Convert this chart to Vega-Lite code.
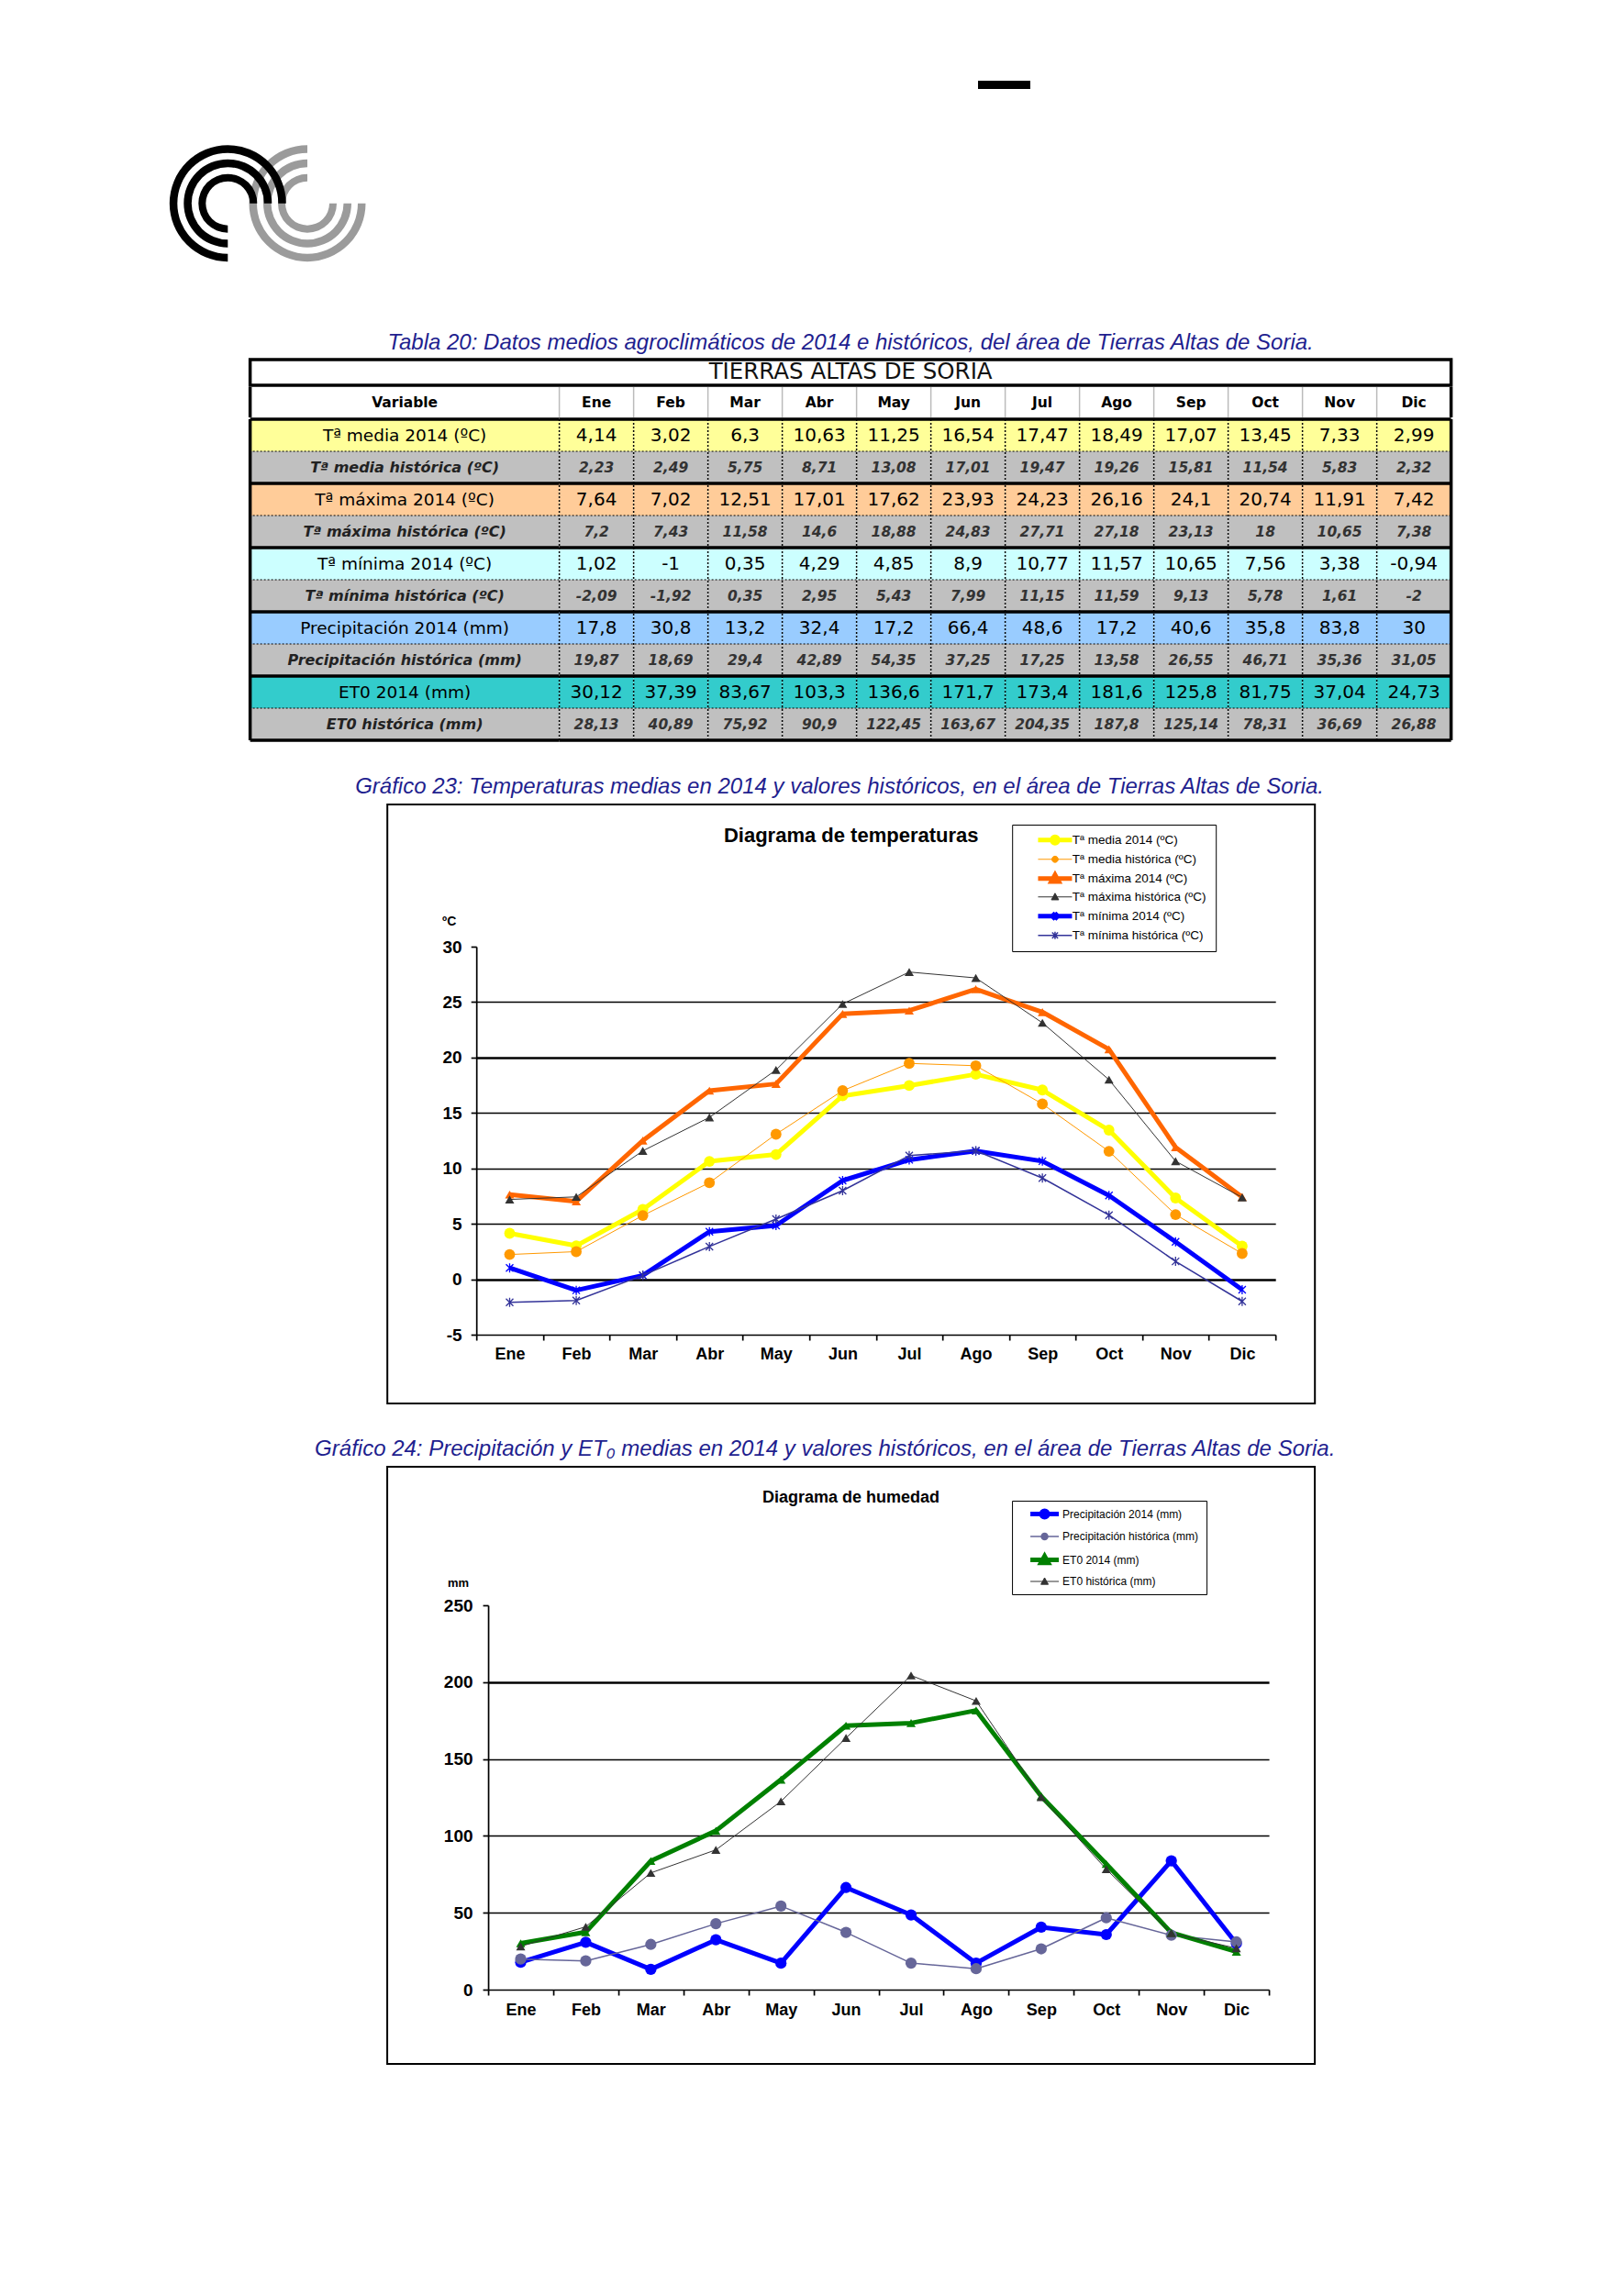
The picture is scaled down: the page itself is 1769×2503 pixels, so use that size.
{
  "$schema": "https://vega.github.io/schema/vega-lite/v6.json",
  "background": "white",
  "padding": {"left": 184, "top": 80, "right": 0, "bottom": 0},
  "spacing": 37,
  "center": true,
  "resolve": {"scale": {"fill": "independent", "stroke": "independent", "strokeWidth": "independent", "shape": "independent", "theta": "independent", "radius": "independent"}},
  "datasets": {
    "clima": [
      {"mes":"Ene","serie":"Tª media 2014 (ºC)","valor":4.14},{"mes":"Feb","serie":"Tª media 2014 (ºC)","valor":3.02},{"mes":"Mar","serie":"Tª media 2014 (ºC)","valor":6.3},{"mes":"Abr","serie":"Tª media 2014 (ºC)","valor":10.63},{"mes":"May","serie":"Tª media 2014 (ºC)","valor":11.25},{"mes":"Jun","serie":"Tª media 2014 (ºC)","valor":16.54},{"mes":"Jul","serie":"Tª media 2014 (ºC)","valor":17.47},{"mes":"Ago","serie":"Tª media 2014 (ºC)","valor":18.49},{"mes":"Sep","serie":"Tª media 2014 (ºC)","valor":17.07},{"mes":"Oct","serie":"Tª media 2014 (ºC)","valor":13.45},{"mes":"Nov","serie":"Tª media 2014 (ºC)","valor":7.33},{"mes":"Dic","serie":"Tª media 2014 (ºC)","valor":2.99},
      {"mes":"Ene","serie":"Tª media histórica (ºC)","valor":2.23},{"mes":"Feb","serie":"Tª media histórica (ºC)","valor":2.49},{"mes":"Mar","serie":"Tª media histórica (ºC)","valor":5.75},{"mes":"Abr","serie":"Tª media histórica (ºC)","valor":8.71},{"mes":"May","serie":"Tª media histórica (ºC)","valor":13.08},{"mes":"Jun","serie":"Tª media histórica (ºC)","valor":17.01},{"mes":"Jul","serie":"Tª media histórica (ºC)","valor":19.47},{"mes":"Ago","serie":"Tª media histórica (ºC)","valor":19.26},{"mes":"Sep","serie":"Tª media histórica (ºC)","valor":15.81},{"mes":"Oct","serie":"Tª media histórica (ºC)","valor":11.54},{"mes":"Nov","serie":"Tª media histórica (ºC)","valor":5.83},{"mes":"Dic","serie":"Tª media histórica (ºC)","valor":2.32},
      {"mes":"Ene","serie":"Tª máxima 2014 (ºC)","valor":7.64},{"mes":"Feb","serie":"Tª máxima 2014 (ºC)","valor":7.02},{"mes":"Mar","serie":"Tª máxima 2014 (ºC)","valor":12.51},{"mes":"Abr","serie":"Tª máxima 2014 (ºC)","valor":17.01},{"mes":"May","serie":"Tª máxima 2014 (ºC)","valor":17.62},{"mes":"Jun","serie":"Tª máxima 2014 (ºC)","valor":23.93},{"mes":"Jul","serie":"Tª máxima 2014 (ºC)","valor":24.23},{"mes":"Ago","serie":"Tª máxima 2014 (ºC)","valor":26.16},{"mes":"Sep","serie":"Tª máxima 2014 (ºC)","valor":24.1},{"mes":"Oct","serie":"Tª máxima 2014 (ºC)","valor":20.74},{"mes":"Nov","serie":"Tª máxima 2014 (ºC)","valor":11.91},{"mes":"Dic","serie":"Tª máxima 2014 (ºC)","valor":7.42},
      {"mes":"Ene","serie":"Tª máxima histórica (ºC)","valor":7.2},{"mes":"Feb","serie":"Tª máxima histórica (ºC)","valor":7.43},{"mes":"Mar","serie":"Tª máxima histórica (ºC)","valor":11.58},{"mes":"Abr","serie":"Tª máxima histórica (ºC)","valor":14.6},{"mes":"May","serie":"Tª máxima histórica (ºC)","valor":18.88},{"mes":"Jun","serie":"Tª máxima histórica (ºC)","valor":24.83},{"mes":"Jul","serie":"Tª máxima histórica (ºC)","valor":27.71},{"mes":"Ago","serie":"Tª máxima histórica (ºC)","valor":27.18},{"mes":"Sep","serie":"Tª máxima histórica (ºC)","valor":23.13},{"mes":"Oct","serie":"Tª máxima histórica (ºC)","valor":18},{"mes":"Nov","serie":"Tª máxima histórica (ºC)","valor":10.65},{"mes":"Dic","serie":"Tª máxima histórica (ºC)","valor":7.38},
      {"mes":"Ene","serie":"Tª mínima 2014 (ºC)","valor":1.02},{"mes":"Feb","serie":"Tª mínima 2014 (ºC)","valor":-1},{"mes":"Mar","serie":"Tª mínima 2014 (ºC)","valor":0.35},{"mes":"Abr","serie":"Tª mínima 2014 (ºC)","valor":4.29},{"mes":"May","serie":"Tª mínima 2014 (ºC)","valor":4.85},{"mes":"Jun","serie":"Tª mínima 2014 (ºC)","valor":8.9},{"mes":"Jul","serie":"Tª mínima 2014 (ºC)","valor":10.77},{"mes":"Ago","serie":"Tª mínima 2014 (ºC)","valor":11.57},{"mes":"Sep","serie":"Tª mínima 2014 (ºC)","valor":10.65},{"mes":"Oct","serie":"Tª mínima 2014 (ºC)","valor":7.56},{"mes":"Nov","serie":"Tª mínima 2014 (ºC)","valor":3.38},{"mes":"Dic","serie":"Tª mínima 2014 (ºC)","valor":-0.94},
      {"mes":"Ene","serie":"Tª mínima histórica (ºC)","valor":-2.09},{"mes":"Feb","serie":"Tª mínima histórica (ºC)","valor":-1.92},{"mes":"Mar","serie":"Tª mínima histórica (ºC)","valor":0.35},{"mes":"Abr","serie":"Tª mínima histórica (ºC)","valor":2.95},{"mes":"May","serie":"Tª mínima histórica (ºC)","valor":5.43},{"mes":"Jun","serie":"Tª mínima histórica (ºC)","valor":7.99},{"mes":"Jul","serie":"Tª mínima histórica (ºC)","valor":11.15},{"mes":"Ago","serie":"Tª mínima histórica (ºC)","valor":11.59},{"mes":"Sep","serie":"Tª mínima histórica (ºC)","valor":9.13},{"mes":"Oct","serie":"Tª mínima histórica (ºC)","valor":5.78},{"mes":"Nov","serie":"Tª mínima histórica (ºC)","valor":1.61},{"mes":"Dic","serie":"Tª mínima histórica (ºC)","valor":-2},
      {"mes":"Ene","serie":"Precipitación 2014 (mm)","valor":17.8},{"mes":"Feb","serie":"Precipitación 2014 (mm)","valor":30.8},{"mes":"Mar","serie":"Precipitación 2014 (mm)","valor":13.2},{"mes":"Abr","serie":"Precipitación 2014 (mm)","valor":32.4},{"mes":"May","serie":"Precipitación 2014 (mm)","valor":17.2},{"mes":"Jun","serie":"Precipitación 2014 (mm)","valor":66.4},{"mes":"Jul","serie":"Precipitación 2014 (mm)","valor":48.6},{"mes":"Ago","serie":"Precipitación 2014 (mm)","valor":17.2},{"mes":"Sep","serie":"Precipitación 2014 (mm)","valor":40.6},{"mes":"Oct","serie":"Precipitación 2014 (mm)","valor":35.8},{"mes":"Nov","serie":"Precipitación 2014 (mm)","valor":83.8},{"mes":"Dic","serie":"Precipitación 2014 (mm)","valor":30},
      {"mes":"Ene","serie":"Precipitación histórica (mm)","valor":19.87},{"mes":"Feb","serie":"Precipitación histórica (mm)","valor":18.69},{"mes":"Mar","serie":"Precipitación histórica (mm)","valor":29.4},{"mes":"Abr","serie":"Precipitación histórica (mm)","valor":42.89},{"mes":"May","serie":"Precipitación histórica (mm)","valor":54.35},{"mes":"Jun","serie":"Precipitación histórica (mm)","valor":37.25},{"mes":"Jul","serie":"Precipitación histórica (mm)","valor":17.25},{"mes":"Ago","serie":"Precipitación histórica (mm)","valor":13.58},{"mes":"Sep","serie":"Precipitación histórica (mm)","valor":26.55},{"mes":"Oct","serie":"Precipitación histórica (mm)","valor":46.71},{"mes":"Nov","serie":"Precipitación histórica (mm)","valor":35.36},{"mes":"Dic","serie":"Precipitación histórica (mm)","valor":31.05},
      {"mes":"Ene","serie":"ET0 2014 (mm)","valor":30.12},{"mes":"Feb","serie":"ET0 2014 (mm)","valor":37.39},{"mes":"Mar","serie":"ET0 2014 (mm)","valor":83.67},{"mes":"Abr","serie":"ET0 2014 (mm)","valor":103.3},{"mes":"May","serie":"ET0 2014 (mm)","valor":136.6},{"mes":"Jun","serie":"ET0 2014 (mm)","valor":171.7},{"mes":"Jul","serie":"ET0 2014 (mm)","valor":173.4},{"mes":"Ago","serie":"ET0 2014 (mm)","valor":181.6},{"mes":"Sep","serie":"ET0 2014 (mm)","valor":125.8},{"mes":"Oct","serie":"ET0 2014 (mm)","valor":81.75},{"mes":"Nov","serie":"ET0 2014 (mm)","valor":37.04},{"mes":"Dic","serie":"ET0 2014 (mm)","valor":24.73},
      {"mes":"Ene","serie":"ET0 histórica (mm)","valor":28.13},{"mes":"Feb","serie":"ET0 histórica (mm)","valor":40.89},{"mes":"Mar","serie":"ET0 histórica (mm)","valor":75.92},{"mes":"Abr","serie":"ET0 histórica (mm)","valor":90.9},{"mes":"May","serie":"ET0 histórica (mm)","valor":122.45},{"mes":"Jun","serie":"ET0 histórica (mm)","valor":163.67},{"mes":"Jul","serie":"ET0 histórica (mm)","valor":204.35},{"mes":"Ago","serie":"ET0 histórica (mm)","valor":187.8},{"mes":"Sep","serie":"ET0 histórica (mm)","valor":125.14},{"mes":"Oct","serie":"ET0 histórica (mm)","valor":78.31},{"mes":"Nov","serie":"ET0 histórica (mm)","valor":36.69},{"mes":"Dic","serie":"ET0 histórica (mm)","valor":26.88}
    ]
  },
  "vconcat": [
    {
      "width": 1488, "height": 245,
      "data": {"values": [{"elemento": "cabecera"}]},
      "layer": [
        {"mark": {"type": "rect", "color": "black"},
         "encoding": {
           "x": {"datum": 882, "type": "quantitative", "scale": {"domain": [0, 1488], "nice": false, "zero": false}, "axis": null},
           "x2": {"datum": 939},
           "y": {"datum": 8, "type": "quantitative", "scale": {"domain": [0, 245], "range": [0, 245], "nice": false, "zero": false}, "axis": null},
           "y2": {"datum": 17}}},
        {"mark": {"type": "arc", "color": "#9b9b9b"}, "encoding": {"x": {"datum": 151, "type": "quantitative", "axis": null}, "y": {"datum": 141.7, "type": "quantitative", "axis": null}, "theta": {"datum": 90, "type": "quantitative", "scale": {"type": "linear", "domain": [0, 360], "range": [0, 6.283185307179586], "zero": false, "nice": false}}, "theta2": {"datum": 360}, "radius": {"datum": 63.5, "type": "quantitative", "scale": {"type": "linear", "domain": [0, 100], "range": [0, 100], "zero": true, "nice": false}}, "radius2": {"datum": 55}}},
        {"mark": {"type": "arc", "color": "#9b9b9b"}, "encoding": {"x": {"datum": 151, "type": "quantitative", "axis": null}, "y": {"datum": 141.7, "type": "quantitative", "axis": null}, "theta": {"datum": 90, "type": "quantitative", "scale": {"type": "linear", "domain": [0, 360], "range": [0, 6.283185307179586], "zero": false, "nice": false}}, "theta2": {"datum": 360}, "radius": {"datum": 48, "type": "quantitative", "scale": {"type": "linear", "domain": [0, 100], "range": [0, 100], "zero": true, "nice": false}}, "radius2": {"datum": 39.5}}},
        {"mark": {"type": "arc", "color": "#9b9b9b"}, "encoding": {"x": {"datum": 151, "type": "quantitative", "axis": null}, "y": {"datum": 141.7, "type": "quantitative", "axis": null}, "theta": {"datum": 90, "type": "quantitative", "scale": {"type": "linear", "domain": [0, 360], "range": [0, 6.283185307179586], "zero": false, "nice": false}}, "theta2": {"datum": 360}, "radius": {"datum": 32, "type": "quantitative", "scale": {"type": "linear", "domain": [0, 100], "range": [0, 100], "zero": true, "nice": false}}, "radius2": {"datum": 24}}},
        {"mark": {"type": "arc", "color": "black"}, "encoding": {"x": {"datum": 64.3, "type": "quantitative", "axis": null}, "y": {"datum": 141.7, "type": "quantitative", "axis": null}, "theta": {"datum": 180, "type": "quantitative", "scale": {"type": "linear", "domain": [0, 360], "range": [0, 6.283185307179586], "zero": false, "nice": false}}, "theta2": {"datum": 450}, "radius": {"datum": 63.5, "type": "quantitative", "scale": {"type": "linear", "domain": [0, 100], "range": [0, 100], "zero": true, "nice": false}}, "radius2": {"datum": 55}}},
        {"mark": {"type": "arc", "color": "black"}, "encoding": {"x": {"datum": 64.3, "type": "quantitative", "axis": null}, "y": {"datum": 141.7, "type": "quantitative", "axis": null}, "theta": {"datum": 180, "type": "quantitative", "scale": {"type": "linear", "domain": [0, 360], "range": [0, 6.283185307179586], "zero": false, "nice": false}}, "theta2": {"datum": 450}, "radius": {"datum": 48, "type": "quantitative", "scale": {"type": "linear", "domain": [0, 100], "range": [0, 100], "zero": true, "nice": false}}, "radius2": {"datum": 39.5}}},
        {"mark": {"type": "arc", "color": "black"}, "encoding": {"x": {"datum": 64.3, "type": "quantitative", "axis": null}, "y": {"datum": 141.7, "type": "quantitative", "axis": null}, "theta": {"datum": 180, "type": "quantitative", "scale": {"type": "linear", "domain": [0, 360], "range": [0, 6.283185307179586], "zero": false, "nice": false}}, "theta2": {"datum": 450}, "radius": {"datum": 32, "type": "quantitative", "scale": {"type": "linear", "domain": [0, 100], "range": [0, 100], "zero": true, "nice": false}}, "radius2": {"datum": 24}}}
      ]
    },
    {
      "title": {"text": "Tabla 20: Datos medios agroclimáticos de 2014 e históricos, del área de Tierras Altas de Soria.", "font": "Liberation Sans", "fontSize": 24, "fontStyle": "italic", "fontWeight": "normal", "color": "#1F1F8F", "anchor": "middle", "offset": 4},
      "spacing": -3.5,
      "vconcat": [
        {
          "width": 1309, "height": 28,
          "view": {"stroke": "black", "strokeWidth": 3.5},
          "data": {"values": [{"titulo": "TIERRAS ALTAS DE SORIA"}]},
          "mark": {"type": "text", "font": "DejaVu Sans", "fontSize": 24.5, "color": "#111111", "baseline": "middle"},
          "encoding": {"text": {"field": "titulo", "type": "nominal"}}
        },
        {
          "hconcat": [
            {
              "width": 337, "height": 33,
              "data": {"values": [{"columna": "Variable"}]},
              "layer": [
                {"mark": {"type": "text", "font": "DejaVu Sans", "fontSize": 15.5, "fontWeight": "bold", "color": "black"},
                 "encoding": {"x": {"field": "columna", "type": "nominal", "scale": {"type": "band", "paddingInner": 0, "paddingOuter": 0}, "axis": null}, "text": {"field": "columna", "type": "nominal"}}},
                {"mark": {"type": "rule", "color": "black", "strokeWidth": 3.5},
                 "encoding": {"x": {"field": "columna", "type": "nominal", "bandPosition": 0, "scale": {"type": "band", "paddingInner": 0, "paddingOuter": 0}, "axis": null}}}
              ]
            },
            {
              "width": 972, "height": 33,
              "data": {"name": "clima"},
              "transform": [{"filter": {"field": "serie", "equal": "Tª media 2014 (ºC)"}}],
              "layer": [
                {"mark": {"type": "rule", "color": "#BBBBBB", "strokeWidth": 1.5},
                 "encoding": {"x": {"field": "mes", "type": "nominal", "bandPosition": 0, "scale": {"type": "band", "domain": ["Ene","Feb","Mar","Abr","May","Jun","Jul","Ago","Sep","Oct","Nov","Dic"], "paddingInner": 0, "paddingOuter": 0}, "axis": null}}},
                {"mark": {"type": "text", "font": "DejaVu Sans", "fontSize": 15.5, "fontWeight": "bold", "color": "black"},
                 "encoding": {"x": {"field": "mes", "type": "nominal", "scale": {"type": "band", "domain": ["Ene","Feb","Mar","Abr","May","Jun","Jul","Ago","Sep","Oct","Nov","Dic"], "paddingInner": 0, "paddingOuter": 0}, "axis": null}, "text": {"field": "mes", "type": "nominal"}}},
                {"transform": [{"filter": {"field": "mes", "equal": "Dic"}}],
                 "mark": {"type": "rule", "color": "black", "strokeWidth": 3.5},
                 "encoding": {"x": {"field": "mes", "type": "nominal", "bandPosition": 1, "scale": {"type": "band", "domain": ["Ene","Feb","Mar","Abr","May","Jun","Jul","Ago","Sep","Oct","Nov","Dic"], "paddingInner": 0, "paddingOuter": 0}, "axis": null}}}
              ]
            }
          ],
          "spacing": 0,
          "bounds": "flush"
        },
        {
          "hconcat": [
            {
              "width": 337, "height": 350,
              "data": {"name": "clima"},
              "transform": [{"filter": {"field": "mes", "equal": "Ene"}}],
              "layer": [
                {"mark": {"type": "rect"},
                 "encoding": {
                   "y": {"field": "serie", "type": "nominal", "scale": {"type": "band", "domain": ["Tª media 2014 (ºC)","Tª media histórica (ºC)","Tª máxima 2014 (ºC)","Tª máxima histórica (ºC)","Tª mínima 2014 (ºC)","Tª mínima histórica (ºC)","Precipitación 2014 (mm)","Precipitación histórica (mm)","ET0 2014 (mm)","ET0 histórica (mm)"], "paddingInner": 0, "paddingOuter": 0}, "axis": null},
                   "fill": {"field": "serie", "type": "nominal", "scale": {"domain": ["Tª media 2014 (ºC)","Tª media histórica (ºC)","Tª máxima 2014 (ºC)","Tª máxima histórica (ºC)","Tª mínima 2014 (ºC)","Tª mínima histórica (ºC)","Precipitación 2014 (mm)","Precipitación histórica (mm)","ET0 2014 (mm)","ET0 histórica (mm)"], "range": ["#FFFF99","#C0C0C0","#FFCC99","#C0C0C0","#CCFFFF","#C0C0C0","#99CCFF","#C0C0C0","#33CCCC","#C0C0C0"]}, "legend": null}}},
                {"transform": [{"filter": {"field": "serie", "oneOf": ["Tª media 2014 (ºC)","Tª máxima 2014 (ºC)","Tª mínima 2014 (ºC)","Precipitación 2014 (mm)","ET0 2014 (mm)"]}}],
                 "mark": {"type": "text", "font": "DejaVu Sans", "fontSize": 18.5, "color": "black"},
                 "encoding": {"y": {"field": "serie", "type": "nominal", "axis": null}, "text": {"field": "serie", "type": "nominal"}}},
                {"transform": [{"filter": {"field": "serie", "oneOf": ["Tª media histórica (ºC)","Tª máxima histórica (ºC)","Tª mínima histórica (ºC)","Precipitación histórica (mm)","ET0 histórica (mm)"]}}],
                 "mark": {"type": "text", "font": "DejaVu Sans", "fontSize": 16, "fontWeight": "bold", "fontStyle": "italic", "color": "#222222"},
                 "encoding": {"y": {"field": "serie", "type": "nominal", "axis": null}, "text": {"field": "serie", "type": "nominal"}}},
                {"transform": [{"filter": {"field": "serie", "oneOf": ["Tª media 2014 (ºC)","Tª máxima 2014 (ºC)","Tª mínima 2014 (ºC)","Precipitación 2014 (mm)","ET0 2014 (mm)"]}}],
                 "mark": {"type": "rule", "color": "black", "strokeWidth": 3.5},
                 "encoding": {"y": {"field": "serie", "type": "nominal", "bandPosition": 0, "axis": null}}},
                {"transform": [{"filter": {"field": "serie", "oneOf": ["Tª media histórica (ºC)","Tª máxima histórica (ºC)","Tª mínima histórica (ºC)","Precipitación histórica (mm)","ET0 histórica (mm)"]}}],
                 "mark": {"type": "rule", "color": "black", "strokeWidth": 1.2, "strokeDash": [2, 2]},
                 "encoding": {"y": {"field": "serie", "type": "nominal", "bandPosition": 0, "axis": null}}},
                {"transform": [{"filter": {"field": "serie", "equal": "ET0 histórica (mm)"}}],
                 "mark": {"type": "rule", "color": "black", "strokeWidth": 3.5},
                 "encoding": {"y": {"field": "serie", "type": "nominal", "bandPosition": 1, "axis": null}}},
                {"transform": [{"filter": {"field": "serie", "equal": "ET0 histórica (mm)"}}],
                 "mark": {"type": "rule", "color": "black", "strokeWidth": 3.5},
                 "encoding": {"x": {"field": "mes", "type": "nominal", "bandPosition": 0, "scale": {"type": "band", "paddingInner": 0, "paddingOuter": 0}, "axis": null}}}
              ]
            },
            {
              "width": 972, "height": 350,
              "data": {"name": "clima"},
              "layer": [
                {"mark": {"type": "rect"},
                 "encoding": {
                   "x": {"field": "mes", "type": "nominal", "scale": {"type": "band", "domain": ["Ene","Feb","Mar","Abr","May","Jun","Jul","Ago","Sep","Oct","Nov","Dic"], "paddingInner": 0, "paddingOuter": 0}, "axis": null},
                   "y": {"field": "serie", "type": "nominal", "scale": {"type": "band", "domain": ["Tª media 2014 (ºC)","Tª media histórica (ºC)","Tª máxima 2014 (ºC)","Tª máxima histórica (ºC)","Tª mínima 2014 (ºC)","Tª mínima histórica (ºC)","Precipitación 2014 (mm)","Precipitación histórica (mm)","ET0 2014 (mm)","ET0 histórica (mm)"], "paddingInner": 0, "paddingOuter": 0}, "axis": null},
                   "fill": {"field": "serie", "type": "nominal", "scale": {"domain": ["Tª media 2014 (ºC)","Tª media histórica (ºC)","Tª máxima 2014 (ºC)","Tª máxima histórica (ºC)","Tª mínima 2014 (ºC)","Tª mínima histórica (ºC)","Precipitación 2014 (mm)","Precipitación histórica (mm)","ET0 2014 (mm)","ET0 histórica (mm)"], "range": ["#FFFF99","#C0C0C0","#FFCC99","#C0C0C0","#CCFFFF","#C0C0C0","#99CCFF","#C0C0C0","#33CCCC","#C0C0C0"]}, "legend": null}}},
                {"transform": [{"filter": {"field": "serie", "oneOf": ["Tª media 2014 (ºC)","Tª máxima 2014 (ºC)","Tª mínima 2014 (ºC)","Precipitación 2014 (mm)","ET0 2014 (mm)"]}}],
                 "mark": {"type": "text", "font": "DejaVu Sans", "fontSize": 20, "color": "black"},
                 "encoding": {"x": {"field": "mes", "type": "nominal", "axis": null}, "y": {"field": "serie", "type": "nominal", "axis": null}, "text": {"field": "valor", "type": "quantitative", "format": "~r"}}},
                {"transform": [{"filter": {"field": "serie", "oneOf": ["Tª media histórica (ºC)","Tª máxima histórica (ºC)","Tª mínima histórica (ºC)","Precipitación histórica (mm)","ET0 histórica (mm)"]}}],
                 "mark": {"type": "text", "font": "DejaVu Sans", "fontSize": 15.5, "fontWeight": "bold", "fontStyle": "italic", "color": "#333333"},
                 "encoding": {"x": {"field": "mes", "type": "nominal", "axis": null}, "y": {"field": "serie", "type": "nominal", "axis": null}, "text": {"field": "valor", "type": "quantitative", "format": "~r"}}},
                {"transform": [{"filter": {"field": "serie", "equal": "Tª media 2014 (ºC)"}}],
                 "mark": {"type": "rule", "color": "black", "strokeWidth": 1.5, "strokeDash": [2, 2]},
                 "encoding": {"x": {"field": "mes", "type": "nominal", "bandPosition": 0, "axis": null}}},
                {"transform": [{"filter": {"field": "mes", "equal": "Ene"}}, {"filter": {"field": "serie", "oneOf": ["Tª media 2014 (ºC)","Tª máxima 2014 (ºC)","Tª mínima 2014 (ºC)","Precipitación 2014 (mm)","ET0 2014 (mm)"]}}],
                 "mark": {"type": "rule", "color": "black", "strokeWidth": 3.5},
                 "encoding": {"y": {"field": "serie", "type": "nominal", "bandPosition": 0, "axis": null}}},
                {"transform": [{"filter": {"field": "mes", "equal": "Ene"}}, {"filter": {"field": "serie", "oneOf": ["Tª media histórica (ºC)","Tª máxima histórica (ºC)","Tª mínima histórica (ºC)","Precipitación histórica (mm)","ET0 histórica (mm)"]}}],
                 "mark": {"type": "rule", "color": "black", "strokeWidth": 1.2, "strokeDash": [2, 2]},
                 "encoding": {"y": {"field": "serie", "type": "nominal", "bandPosition": 0, "axis": null}}},
                {"transform": [{"filter": {"field": "mes", "equal": "Ene"}}, {"filter": {"field": "serie", "equal": "ET0 histórica (mm)"}}],
                 "mark": {"type": "rule", "color": "black", "strokeWidth": 3.5},
                 "encoding": {"y": {"field": "serie", "type": "nominal", "bandPosition": 1, "axis": null}}},
                {"transform": [{"filter": {"field": "mes", "equal": "Dic"}}, {"filter": {"field": "serie", "equal": "ET0 histórica (mm)"}}],
                 "mark": {"type": "rule", "color": "black", "strokeWidth": 3.5},
                 "encoding": {"x": {"field": "mes", "type": "nominal", "bandPosition": 1, "axis": null}}}
              ]
            }
          ],
          "spacing": 0,
          "bounds": "flush"
        }
      ]
    },
    {
      "spacing": 6,
      "center": true,
      "resolve": {"scale": {"fill": "independent", "stroke": "independent", "strokeWidth": "independent", "shape": "independent"}},
      "vconcat": [
        {
          "width": 1011, "height": 24,
          "data": {"values": [{"texto": "Gráfico 23: Temperaturas medias en 2014 y valores  históricos, en el área de Tierras Altas de Soria."}]},
          "mark": {"type": "text", "font": "Liberation Sans", "fontSize": 24, "fontStyle": "italic", "color": "#1F1F8F", "baseline": "middle"},
          "encoding": {"text": {"field": "texto", "type": "nominal"}}
        },
        {
          "width": 1011, "height": 653,
          "view": {"stroke": "black", "strokeWidth": 2},
          "title": {"text": "Diagrama de temperaturas", "fontSize": 22, "fontWeight": "bold", "anchor": "middle", "offset": -46, "color": "black"},
          "data": {"name": "clima"},
          "transform": [{"filter": {"field": "serie", "oneOf": ["Tª media 2014 (ºC)","Tª media histórica (ºC)","Tª máxima 2014 (ºC)","Tª máxima histórica (ºC)","Tª mínima 2014 (ºC)","Tª mínima histórica (ºC)"]}}],
          "encoding": {
            "x": {"field": "mes", "type": "nominal", "sort": ["Ene","Feb","Mar","Abr","May","Jun","Jul","Ago","Sep","Oct","Nov","Dic"],
                  "scale": {"type": "band", "domain": ["Ene","Feb","Mar","Abr","May","Jun","Jul","Ago","Sep","Oct","Nov","Dic"], "range": [97, 968], "paddingInner": 0, "paddingOuter": 0},
                  "axis": {"orient": "bottom", "offset": -75, "title": null, "tickBand": "extent", "labelAngle": 0, "domainColor": "black", "domainWidth": 1.7, "tickColor": "black", "tickWidth": 1.7, "tickSize": 6, "labelFontSize": 18, "labelFontWeight": "bold", "labelColor": "black", "labelPadding": 6, "grid": false}},
            "y": {"field": "valor", "type": "quantitative",
                  "scale": {"domain": [-5, 30], "range": [578, 155], "nice": false, "zero": false},
                  "axis": {"orient": "left", "offset": -97, "values": [-5, 0, 5, 10, 15, 20, 25, 30], "grid": true,
                           "gridColor": {"condition": {"test": "datum.value === -5 || datum.value === 30", "value": "transparent"}, "value": "black"},
                           "gridWidth": {"condition": {"test": "datum.value === 0 || datum.value === 20", "value": 2.5}, "value": 1.3},
                           "domainColor": "black", "domainWidth": 1.7, "tickColor": "black", "tickWidth": 1.7, "tickSize": 6,
                           "labelFontSize": 19, "labelFontWeight": "bold", "labelColor": "black", "labelPadding": 10,
                           "title": "ºC", "titleAngle": 0, "titleX": -30, "titleY": 127, "titleFontSize": 14, "titleFontWeight": "bold", "titleAlign": "center", "titleBaseline": "middle", "titleColor": "black"}}
          },
          "layer": [
            {"mark": {"type": "line", "strokeJoin": "round"},
             "encoding": {
               "stroke": {"field": "serie", "type": "nominal", "scale": {"domain": ["Tª media 2014 (ºC)","Tª media histórica (ºC)","Tª máxima 2014 (ºC)","Tª máxima histórica (ºC)","Tª mínima 2014 (ºC)","Tª mínima histórica (ºC)"], "range": ["#FFFF00","#FF9900","#FF6600","#333333","#0000FF","#333399"]},
                          "legend": {"orient": "none", "legendX": 681, "legendY": 22, "title": null, "strokeColor": "black", "fillColor": "white", "padding": 10, "symbolSize": 64, "symbolOffset": 30, "labelOffset": 12, "labelFontSize": 13.5, "labelColor": "black", "labelLimit": 300, "rowPadding": -1, "symbolOpacity": 1}},
               "strokeWidth": {"field": "serie", "type": "nominal", "scale": {"type": "ordinal", "domain": ["Tª media 2014 (ºC)","Tª media histórica (ºC)","Tª máxima 2014 (ºC)","Tª máxima histórica (ºC)","Tª mínima 2014 (ºC)","Tª mínima histórica (ºC)"], "range": [5, 1, 5, 1, 5, 1.5]}}
             }},
            {"transform": [{"filter": {"field": "serie", "oneOf": ["Tª media 2014 (ºC)","Tª media histórica (ºC)"]}}],
             "mark": {"type": "point", "shape": "circle", "filled": true, "opacity": 1, "size": 140},
             "encoding": {"fill": {"field": "serie", "type": "nominal", "scale": {"domain": ["Tª media 2014 (ºC)","Tª media histórica (ºC)","Tª máxima 2014 (ºC)","Tª máxima histórica (ºC)","Tª mínima 2014 (ºC)","Tª mínima histórica (ºC)"], "range": ["#FFFF00","#FF9900","#FF6600","#333333","#0000FF","#3333CC"]}}}},
            {"transform": [{"filter": {"field": "serie", "oneOf": ["Tª máxima 2014 (ºC)","Tª máxima histórica (ºC)"]}}],
             "mark": {"type": "point", "shape": "triangle-up", "filled": true, "opacity": 1, "size": 100},
             "encoding": {"fill": {"field": "serie", "type": "nominal", "scale": {"domain": ["Tª media 2014 (ºC)","Tª media histórica (ºC)","Tª máxima 2014 (ºC)","Tª máxima histórica (ºC)","Tª mínima 2014 (ºC)","Tª mínima histórica (ºC)"], "range": ["#FFFF00","#FF9900","#FF6600","#333333","#0000FF","#3333CC"]}}}},
            {"transform": [{"filter": {"field": "serie", "oneOf": ["Tª mínima 2014 (ºC)","Tª mínima histórica (ºC)"]}}],
             "mark": {"type": "point", "shape": "M0,-1V1M-0.8,-0.8L0.8,0.8M-0.8,0.8L0.8,-0.8", "filled": false, "opacity": 1, "size": 100, "strokeWidth": 1.3},
             "encoding": {"stroke": {"field": "serie", "type": "nominal", "scale": {"domain": ["Tª media 2014 (ºC)","Tª media histórica (ºC)","Tª máxima 2014 (ºC)","Tª máxima histórica (ºC)","Tª mínima 2014 (ºC)","Tª mínima histórica (ºC)"], "range": ["#FFFF00","#FF9900","#FF6600","#333333","#0000FF","#333399"]}}}},
            {"transform": [{"filter": "false"}],
             "mark": {"type": "point", "filled": true, "opacity": 1},
             "encoding": {
               "shape": {"field": "serie", "type": "nominal", "scale": {"domain": ["Tª media 2014 (ºC)","Tª media histórica (ºC)","Tª máxima 2014 (ºC)","Tª máxima histórica (ºC)","Tª mínima 2014 (ºC)","Tª mínima histórica (ºC)"],
                 "range": ["M-4.625,0H4.625M0.85,0A0.85,0.85,0,1,1,-0.85,0A0.85,0.85,0,1,1,0.85,0Z", "M-4.625,0H4.625M0.85,0A0.85,0.85,0,1,1,-0.85,0A0.85,0.85,0,1,1,0.85,0Z", "M-4.625,0H4.625M0,-1L1,0.8H-1Z", "M-4.625,0H4.625M0,-1L1,0.8H-1Z", "M-4.625,0H4.625M0,-1V1M-0.8,-0.8L0.8,0.8M-0.8,0.8L0.8,-0.8", "M-4.625,0H4.625M0,-1V1M-0.8,-0.8L0.8,0.8M-0.8,0.8L0.8,-0.8"]}},
               "fill": {"field": "serie", "type": "nominal", "scale": {"domain": ["Tª media 2014 (ºC)","Tª media histórica (ºC)","Tª máxima 2014 (ºC)","Tª máxima histórica (ºC)","Tª mínima 2014 (ºC)","Tª mínima histórica (ºC)"], "range": ["#FFFF00","#FF9900","#FF6600","#333333","#0000FF","#3333CC"]}},
               "stroke": {"field": "serie", "type": "nominal", "scale": {"domain": ["Tª media 2014 (ºC)","Tª media histórica (ºC)","Tª máxima 2014 (ºC)","Tª máxima histórica (ºC)","Tª mínima 2014 (ºC)","Tª mínima histórica (ºC)"], "range": ["#FFFF00","#FF9900","#FF6600","#333333","#0000FF","#333399"]}},
               "strokeWidth": {"field": "serie", "type": "nominal", "scale": {"type": "ordinal", "domain": ["Tª media 2014 (ºC)","Tª media histórica (ºC)","Tª máxima 2014 (ºC)","Tª máxima histórica (ºC)","Tª mínima 2014 (ºC)","Tª mínima histórica (ºC)"], "range": [5, 1, 5, 1, 5, 1.5]}}
             }}
          ]
        }
      ]
    },
    {
      "spacing": 6,
      "center": true,
      "resolve": {"scale": {"fill": "independent", "stroke": "independent", "strokeWidth": "independent", "shape": "independent"}},
      "vconcat": [
        {
          "width": 1011, "height": 24,
          "data": {"values": [{"texto": "Gráfico 24: Precipitación y ET₀  medias en 2014 y valores  históricos, en el área de Tierras Altas de Soria."}]},
          "mark": {"type": "text", "font": "Liberation Sans", "fontSize": 24, "fontStyle": "italic", "color": "#1F1F8F", "baseline": "middle"},
          "encoding": {"text": {"field": "texto", "type": "nominal"}}
        },
        {
          "width": 1011, "height": 651,
          "view": {"stroke": "black", "strokeWidth": 2},
          "title": {"text": "Diagrama de humedad", "fontSize": 18, "fontWeight": "bold", "anchor": "middle", "offset": -43, "color": "black"},
          "data": {"name": "clima"},
          "transform": [{"filter": {"field": "serie", "oneOf": ["Precipitación 2014 (mm)","Precipitación histórica (mm)","ET0 2014 (mm)","ET0 histórica (mm)"]}}],
          "encoding": {
            "x": {"field": "mes", "type": "nominal", "sort": ["Ene","Feb","Mar","Abr","May","Jun","Jul","Ago","Sep","Oct","Nov","Dic"],
                  "scale": {"type": "band", "domain": ["Ene","Feb","Mar","Abr","May","Jun","Jul","Ago","Sep","Oct","Nov","Dic"], "range": [110, 961], "paddingInner": 0, "paddingOuter": 0},
                  "axis": {"orient": "bottom", "offset": -81, "title": null, "tickBand": "extent", "labelAngle": 0, "domainColor": "black", "domainWidth": 1.7, "tickColor": "black", "tickWidth": 1.7, "tickSize": 6, "labelFontSize": 18, "labelFontWeight": "bold", "labelColor": "black", "labelPadding": 7, "grid": false}},
            "y": {"field": "valor", "type": "quantitative",
                  "scale": {"domain": [0, 250], "range": [570, 151], "nice": false, "zero": false},
                  "axis": {"orient": "left", "offset": -110, "values": [0, 50, 100, 150, 200, 250], "grid": true,
                           "gridColor": {"condition": {"test": "datum.value === 0 || datum.value === 250", "value": "transparent"}, "value": "black"},
                           "gridWidth": {"condition": {"test": "datum.value === 200", "value": 2.5}, "value": 1.3},
                           "domainColor": "black", "domainWidth": 1.7, "tickColor": "black", "tickWidth": 1.7, "tickSize": 6,
                           "labelFontSize": 19, "labelFontWeight": "bold", "labelColor": "black", "labelPadding": 11,
                           "title": "mm", "titleAngle": 0, "titleX": -33, "titleY": 126, "titleFontSize": 13, "titleFontWeight": "bold", "titleAlign": "center", "titleBaseline": "middle", "titleColor": "black"}}
          },
          "layer": [
            {"mark": {"type": "line", "strokeJoin": "round"},
             "encoding": {
               "stroke": {"field": "serie", "type": "nominal", "scale": {"domain": ["Precipitación 2014 (mm)","Precipitación histórica (mm)","ET0 2014 (mm)","ET0 histórica (mm)"], "range": ["#0000FF","#666699","#008000","#333333"]},
                          "legend": {"orient": "none", "legendX": 681, "legendY": 37, "title": null, "strokeColor": "black", "fillColor": "white", "padding": 8, "symbolSize": 64, "symbolOffset": 21, "labelOffset": 13, "labelFontSize": 12, "labelColor": "black", "labelLimit": 300, "rowPadding": 4, "symbolOpacity": 1}},
               "strokeWidth": {"field": "serie", "type": "nominal", "scale": {"type": "ordinal", "domain": ["Precipitación 2014 (mm)","Precipitación histórica (mm)","ET0 2014 (mm)","ET0 histórica (mm)"], "range": [5, 1.5, 5, 1]}}
             }},
            {"transform": [{"filter": {"field": "serie", "oneOf": ["Precipitación 2014 (mm)","Precipitación histórica (mm)"]}}],
             "mark": {"type": "point", "shape": "circle", "filled": true, "opacity": 1, "size": 150},
             "encoding": {"fill": {"field": "serie", "type": "nominal", "scale": {"domain": ["Precipitación 2014 (mm)","Precipitación histórica (mm)","ET0 2014 (mm)","ET0 histórica (mm)"], "range": ["#0000FF","#666699","#008000","#333333"]}}}},
            {"transform": [{"filter": {"field": "serie", "oneOf": ["ET0 2014 (mm)","ET0 histórica (mm)"]}}],
             "mark": {"type": "point", "shape": "triangle-up", "filled": true, "opacity": 1, "size": 100},
             "encoding": {"fill": {"field": "serie", "type": "nominal", "scale": {"domain": ["Precipitación 2014 (mm)","Precipitación histórica (mm)","ET0 2014 (mm)","ET0 histórica (mm)"], "range": ["#0000FF","#666699","#008000","#333333"]}}}},
            {"transform": [{"filter": "false"}],
             "mark": {"type": "point", "filled": true, "opacity": 1},
             "encoding": {
               "shape": {"field": "serie", "type": "nominal", "scale": {"domain": ["Precipitación 2014 (mm)","Precipitación histórica (mm)","ET0 2014 (mm)","ET0 histórica (mm)"],
                 "range": ["M-3.875,0H3.875M0.875,0A0.875,0.875,0,1,1,-0.875,0A0.875,0.875,0,1,1,0.875,0Z", "M-3.875,0H3.875M0.875,0A0.875,0.875,0,1,1,-0.875,0A0.875,0.875,0,1,1,0.875,0Z", "M-3.875,0H3.875M0,-1L1,0.8H-1Z", "M-3.875,0H3.875M0,-1L1,0.8H-1Z"]}},
               "fill": {"field": "serie", "type": "nominal", "scale": {"domain": ["Precipitación 2014 (mm)","Precipitación histórica (mm)","ET0 2014 (mm)","ET0 histórica (mm)"], "range": ["#0000FF","#666699","#008000","#333333"]}},
               "stroke": {"field": "serie", "type": "nominal", "scale": {"domain": ["Precipitación 2014 (mm)","Precipitación histórica (mm)","ET0 2014 (mm)","ET0 histórica (mm)"], "range": ["#0000FF","#666699","#008000","#333333"]}},
               "strokeWidth": {"field": "serie", "type": "nominal", "scale": {"type": "ordinal", "domain": ["Precipitación 2014 (mm)","Precipitación histórica (mm)","ET0 2014 (mm)","ET0 histórica (mm)"], "range": [5, 1.5, 5, 1]}}
             }}
          ]
        }
      ]
    }
  ],
  "config": {
    "view": {"stroke": null},
    "font": "Liberation Sans",
    "locale": {"number": {"decimal": ",", "thousands": ".", "grouping": [3], "currency": ["", " €"], "minus": "-"}}
  }
}
